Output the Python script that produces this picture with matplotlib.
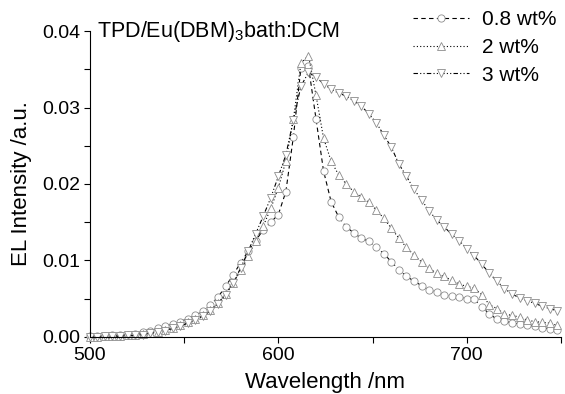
import matplotlib
matplotlib.use('Agg')
import matplotlib.pyplot as plt
import numpy as np

plt.rcParams['font.family'] = ['Liberation Sans', 'DejaVu Sans']
plt.rcParams['mathtext.default'] = 'regular'

# wavelength grid (nm), 4 nm steps
wl = np.arange(500, 749, 4)

# EL intensity
el_08 = [0.0001, 0.0001, 0.0001, 0.0002, 0.0002, 0.0003, 0.0004, 0.0006, 0.0008, 0.0011,
         0.0014, 0.0017, 0.0020, 0.0024, 0.0028, 0.0034, 0.0042, 0.0052, 0.0066, 0.0081,
         0.0097, 0.0112, 0.0126, 0.0140, 0.0150, 0.0160, 0.0190, 0.0262, 0.0352, 0.0354,
         0.0285, 0.0217, 0.0177, 0.0157, 0.0144, 0.0136, 0.0129, 0.0125, 0.0117, 0.0109,
         0.0098, 0.0088, 0.0079, 0.0073, 0.0067, 0.0061, 0.0059, 0.0055, 0.0053, 0.0052,
         0.0050, 0.0049, 0.0039, 0.0030, 0.0023, 0.0021, 0.0018, 0.0017, 0.0016, 0.0014,
         0.0012, 0.0010, 0.0009]
el_2 = [0.0000, 0.0000, 0.0001, 0.0001, 0.0001, 0.0002, 0.0003, 0.0004, 0.0005, 0.0007,
        0.0009, 0.0012, 0.0015, 0.0019, 0.0023, 0.0028, 0.0035, 0.0044, 0.0056, 0.0070,
        0.0087, 0.0106, 0.0125, 0.0145, 0.0168, 0.0195, 0.0230, 0.0285, 0.0358, 0.0368,
        0.0316, 0.0260, 0.0230, 0.0212, 0.0200, 0.0190, 0.0183, 0.0176, 0.0166, 0.0155,
        0.0142, 0.0129, 0.0117, 0.0107, 0.0098, 0.0090, 0.0083, 0.0079, 0.0074, 0.0069,
        0.0066, 0.0064, 0.0055, 0.0042, 0.0037, 0.0030, 0.0028, 0.0026, 0.0022, 0.0020,
        0.0019, 0.0018, 0.0015]
el_3 = [0.0000, 0.0000, 0.0001, 0.0001, 0.0001, 0.0002, 0.0002, 0.0003, 0.0005, 0.0006,
        0.0008, 0.0011, 0.0014, 0.0018, 0.0022, 0.0027, 0.0034, 0.0043, 0.0055, 0.0070,
        0.0090, 0.0112, 0.0135, 0.0158, 0.0182, 0.0210, 0.0238, 0.0284, 0.0328, 0.0346,
        0.0340, 0.0331, 0.0324, 0.0319, 0.0315, 0.0309, 0.0302, 0.0292, 0.0280, 0.0264,
        0.0248, 0.0226, 0.0210, 0.0193, 0.0179, 0.0165, 0.0153, 0.0144, 0.0134, 0.0126,
        0.0115, 0.0106, 0.0095, 0.0083, 0.0073, 0.0063, 0.0056, 0.0051, 0.0047, 0.0044,
        0.0040, 0.0037, 0.0034]
labels = ['0.8 wt%', '2 wt%', '3 wt%']

fig = plt.figure(figsize=(5.65, 3.94), dpi=100)
ax = fig.add_axes([0.159, 0.145, 0.834, 0.776])

mk = dict(mfc='white', mec='#8c8c8c', mew=0.6, ms=5.2, color='black', lw=0.8, clip_on=False)
ax.plot(wl, el_08, ls=(0, (4, 3)), marker='o', label=labels[0], **mk)
ax.plot(wl, el_2, ls=(0, (1, 2)), marker='^', label=labels[1], **mk)
ax.plot(wl, el_3, ls=(0, (4, 2, 1, 2, 1, 2)), marker='v', label=labels[2], **mk)

ax.set_xlim(500, 750)
ax.set_ylim(0, 0.04)
ax.set_xticks([500, 600, 700])
ax.set_xticks([550, 650, 750], minor=True)
ax.set_yticks([0.00, 0.01, 0.02, 0.03, 0.04])
ax.set_yticks([0.005, 0.015, 0.025, 0.035], minor=True)
ax.set_yticklabels(['0.00', '0.01', '0.02', '0.03', '0.04'])
ax.tick_params(which='both', direction='out', length=4, width=0.8, labelsize=14, pad=3)
ax.spines['top'].set_visible(False)
ax.spines['right'].set_visible(False)

ax.set_xlabel('Wavelength /nm', fontsize=16, labelpad=6)
ax.set_ylabel('EL Intensity /a.u.', fontsize=16, labelpad=7)
ax.text(0.015, 1.0, 'TPD/Eu(DBM)$_3$bath:DCM', transform=ax.transAxes,
        fontsize=15.5, va='center', ha='left')

leg = ax.legend(loc='upper right', bbox_to_anchor=(1.03, 1.13), frameon=False,
                fontsize=15, handlelength=2.7, handletextpad=0.6, labelspacing=0.42,
                numpoints=1)

fig.savefig('out.png', dpi=100)
